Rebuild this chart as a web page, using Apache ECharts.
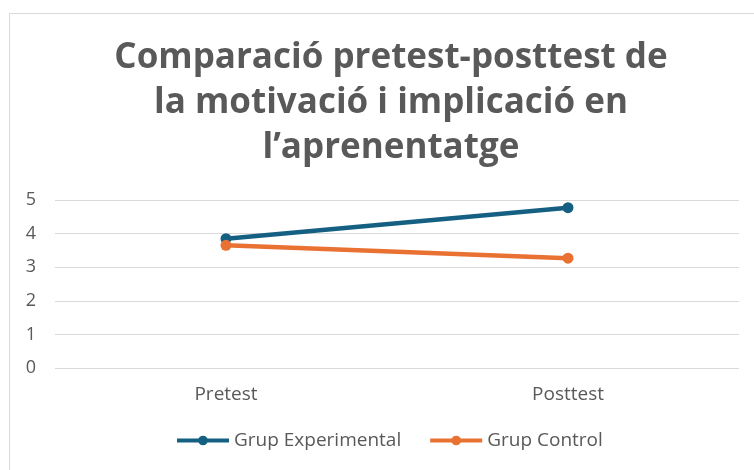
<!DOCTYPE html>
<html lang="ca">
<head>
<meta charset="UTF-8">
<title>Comparació pretest-posttest</title>
<script src="https://cdn.jsdelivr.net/npm/echarts@6.0.0/dist/echarts.min.js"></script>
<style>
  html, body { margin: 0; padding: 0; background: #fff; }
  #main { width: 754px; height: 470px; }
</style>
</head>
<body>
<div id="main"></div>
<script>
  var categories = ['Pretest', 'Posttest'];
  var experimental = [3.85, 4.77];
  var control = [3.65, 3.27];
  var yTicks = [0, 1, 2, 3, 4, 5];

  var chart = echarts.init(document.getElementById('main'));
  var font = '"Open Sans", Inter, sans-serif';

  chart.setOption({
    animation: false,
    textStyle: { fontFamily: font },
    graphic: [{
      type: 'rect',
      shape: { x: 9.5, y: 13.5, width: 800, height: 500 },
      style: { fill: 'none', stroke: '#d9d9d9', lineWidth: 1 },
      silent: true
    }],
    title: {
      text: 'Comparació pretest-posttest de\nla motivació i implicació en\nl’aprenentatge',
      left: 386,
      top: 31,
      textAlign: 'center',
      textStyle: {
        fontFamily: font,
        fontSize: 35,
        fontWeight: 700,
        color: '#595959',
        lineHeight: 45
      }
    },
    legend: {
      bottom: 15,
      left: 170,
      itemGap: 27,
      itemWidth: 52,
      itemHeight: 12,
      lineStyle: { width: 4 },
      textStyle: { fontSize: 19, color: '#595959', fontFamily: font },
      data: ['Grup Experimental', 'Grup Control']
    },
    grid: { left: 55, right: 15, top: 200, bottom: 102 },
    xAxis: {
      type: 'category',
      data: categories,
      axisLine: { show: false },
      axisTick: { show: false },
      axisLabel: { fontSize: 19, color: '#595959', margin: 17 }
    },
    yAxis: {
      type: 'value',
      min: yTicks[0],
      max: yTicks[yTicks.length - 1],
      interval: 1,
      axisLabel: { fontSize: 18, color: '#595959', margin: 19 },
      splitLine: { lineStyle: { color: '#d9d9d9', width: 1 } }
    },
    series: [{
      name: 'Grup Experimental',
      type: 'line',
      data: experimental,
      symbol: 'circle',
      symbolSize: 11,
      lineStyle: { width: 4.5, color: '#156082' },
      itemStyle: { color: '#156082' }
    }, {
      name: 'Grup Control',
      type: 'line',
      data: control,
      symbol: 'circle',
      symbolSize: 11,
      lineStyle: { width: 4.5, color: '#e97132' },
      itemStyle: { color: '#e97132' }
    }]
  });
</script>
</body>
</html>
